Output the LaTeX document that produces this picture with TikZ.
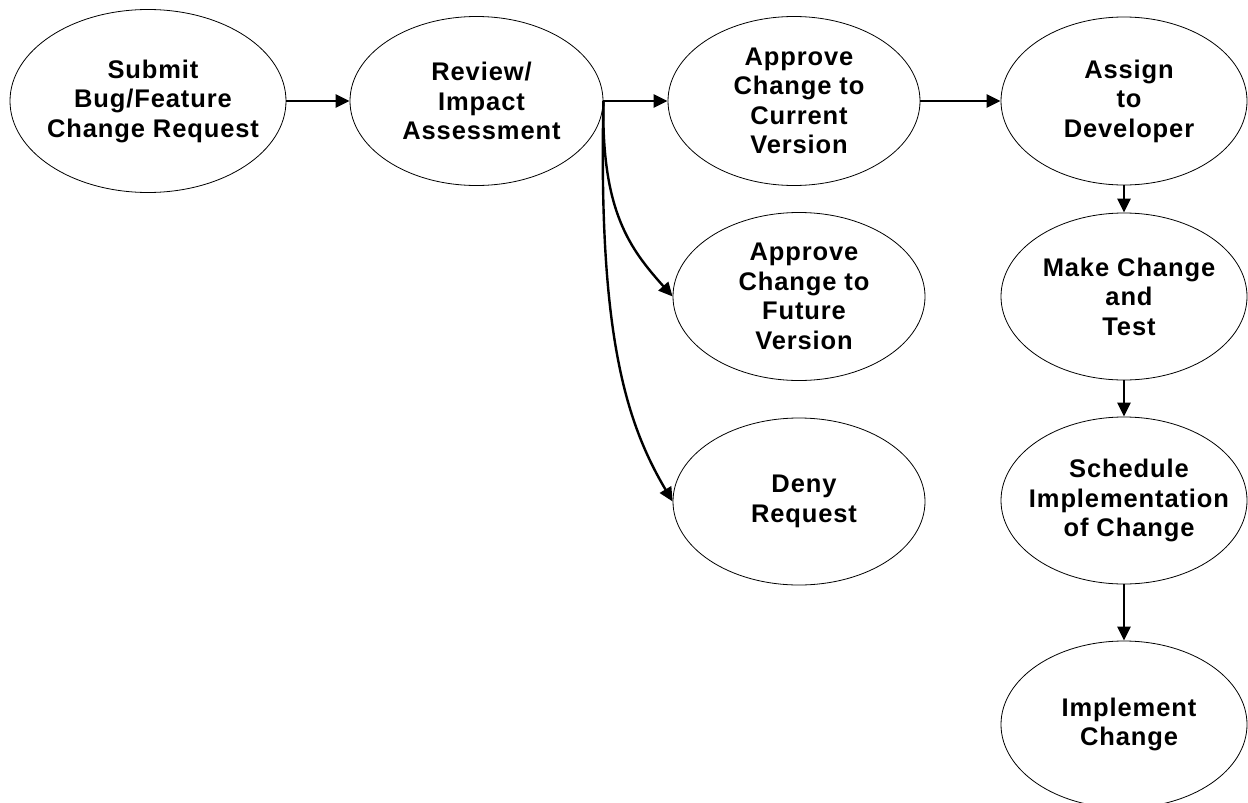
\documentclass[tikz,border=0pt]{standalone}
\usepackage{fontspec}
\setmainfont{Liberation Sans}
\newfontfamily\flowfont{Liberation Sans}[LetterSpace=3.5]
\usetikzlibrary{shapes.geometric,arrows.meta}

\begin{document}
\begin{tikzpicture}[x=1pt,y=-1pt,
  stage/.style={draw=black, line width=0.8pt, ellipse, inner sep=0pt,
    minimum width=#1},
  stage/.default=252pt,
  stagetext/.style={align=center, inner sep=0pt, xshift=5pt,
    font=\flowfont\bfseries\fontsize{25.5}{29.5}\selectfont},
  flow/.style={line width=2.4pt, -{Triangle[length=14pt,width=13pt]}}
]
\useasboundingbox (0,0) rectangle (1248,803);

% top row
\node[stage=276pt, minimum height=183pt,
  label={[stagetext]center:Submit\\Bug/Feature\\Change Request}] (submit) at (148,101) {};
\node[stage=253pt, minimum height=169pt,
  label={[stagetext]center:Review/\\Impact\\Assessment}] (review) at (476.5,101) {};
\node[stage=252pt, minimum height=169pt,
  label={[stagetext]center:Approve\\Change to\\Current\\Version}] (current) at (794,101) {};
\node[stage=246pt, minimum height=168pt,
  label={[stagetext]center:Assign\\to\\Developer}] (assign) at (1124,101) {};

% middle column
\node[stage=252pt, minimum height=168pt,
  label={[stagetext]center:Approve\\Change to\\Future\\Version}] (future) at (799,296.5) {};
\node[stage=252pt, minimum height=167pt,
  label={[stagetext]center:Deny\\Request}] (deny) at (799,501.5) {};

% right column
\node[stage=246pt, minimum height=167pt,
  label={[stagetext]center:Make Change\\and\\Test}] (make) at (1124,296.5) {};
\node[stage=246pt, minimum height=167pt,
  label={[stagetext]center:Schedule\\Implementation\\of Change}] (schedule) at (1124,500.5) {};
\node[stage=246pt, minimum height=167pt,
  label={[stagetext]center:Implement\\Change}] (implement) at (1124,724.5) {};

% connectors
\draw[flow] (submit.east) -- (review.west);
\draw[flow] (review.east) -- (current.west);
\draw[flow] (current.east) -- (assign.west);
\draw[flow] (review.east) .. controls +(-2,110) and +(-43,-48) .. (future.west);
\draw[flow] (review.east) .. controls +(-5,230) and +(-48,-81) .. (deny.west);
\draw[flow] (assign.south) -- (make.north);
\draw[flow] (make.south) -- (schedule.north);
\draw[flow] (schedule.south) -- (implement.north);
\end{tikzpicture}
\end{document}
